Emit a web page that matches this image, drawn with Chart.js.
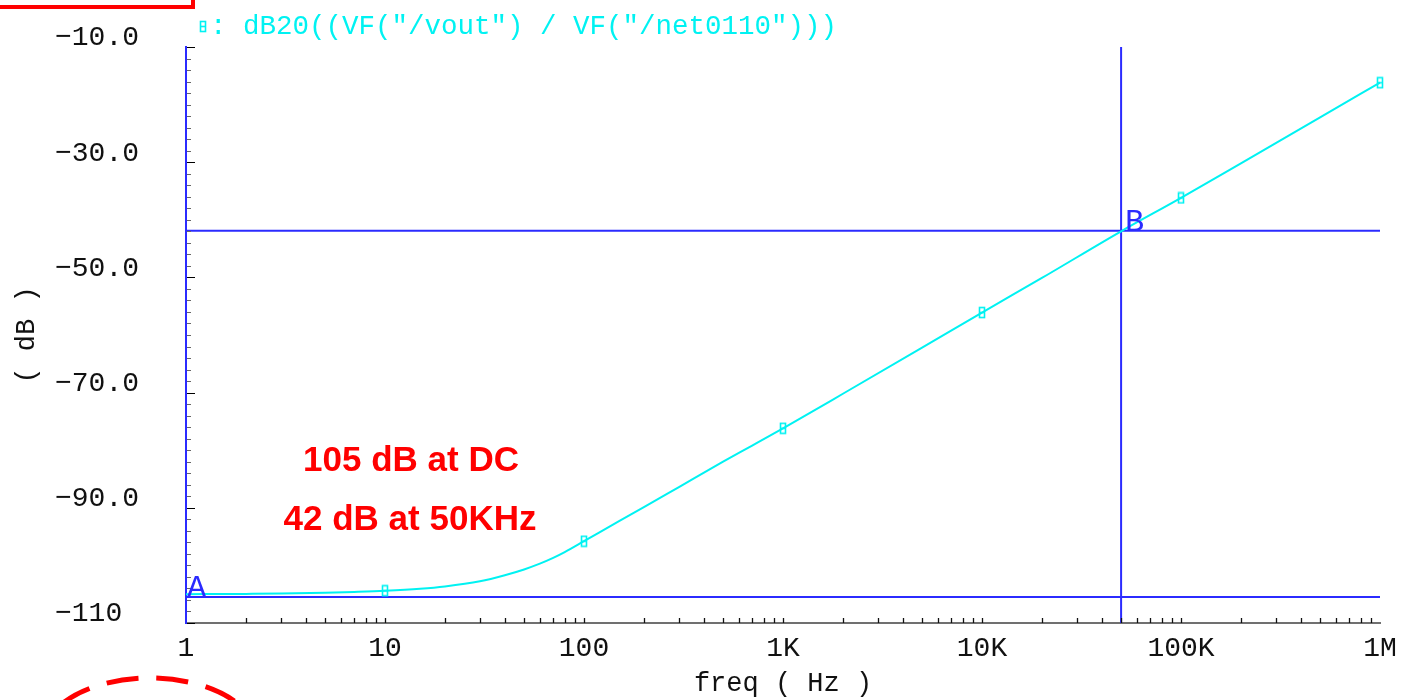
<!DOCTYPE html>
<html><head><meta charset="utf-8">
<script src="https://cdn.jsdelivr.net/npm/chart.js@4/dist/chart.umd.min.js"></script>
<style>html,body{margin:0;padding:0;background:#fff;} canvas{display:block;}</style>
</head><body>
<canvas id="c" width="1417" height="700"></canvas>
<script>
// ---- data ----
const freqHz = [1, 2, 3, 5, 7, 10, 15, 20, 30, 40, 50, 60, 70, 80, 100, 150, 200, 300, 500, 700,
  1000, 2000, 5000, 10000, 20000, 50000, 100000, 200000, 500000, 1000000];
const gainDb = [-105.0, -104.95, -104.9, -104.75, -104.6, -104.4, -104.05, -103.65, -102.75, -101.7,
  -100.7, -99.7, -98.7, -97.7, -95.8, -92.3, -89.9, -86.4, -82.0, -79.2,
  -76.2, -70.2, -62.2, -56.1, -50.1, -42.0, -36.2, -30.2, -22.2, -16.2];
const markerFreqs = [10, 100, 1000, 10000, 100000, 1000000];
const cursorNames = ['A', 'B'];
const cursorFreqs = [1, 50000];
const cursorDb = [-105.5, -41.9];
const xTickValues = [1, 10, 100, 1000, 10000, 100000, 1000000];
const xTickLabels = ['1', '10', '100', '1K', '10K', '100K', '1M'];
const yTickValues = [-110, -90, -70, -50, -30, -10];
const yTickLabels = ['−110', '−90.0', '−70.0', '−50.0', '−30.0', '−10.0'];
const traceLabel = ': dB20((VF("/vout") / VF("/net0110")))';
const xTitle = 'freq ( Hz )';
const yTitle = '( dB )';
const noteLines = ['105 dB at DC', '42 dB at 50KHz'];

const X_MIN = 1, X_MAX = 1e6, Y_MIN = -110, Y_MAX = -10;
const CYAN = '#00f2f2', BLUE = '#2b2bff', MONO = '"Liberation Mono", "DejaVu Sans Mono", monospace';

function makeMarker() {
  const c = document.createElement('canvas');
  c.width = 8; c.height = 13;
  const g = c.getContext('2d');
  g.strokeStyle = CYAN; g.lineWidth = 1.6;
  g.strokeRect(1.5, 1.5, 5, 10);
  g.beginPath(); g.moveTo(1.5, 6.5); g.lineTo(6.5, 6.5); g.stroke();
  return c;
}
const marker = makeMarker();

const curve = freqHz.map((f, i) => ({x: f, y: gainDb[i]}));
const cursorSets = [];
cursorNames.forEach((n, i) => {
  cursorSets.push({data: [{x: X_MIN, y: cursorDb[i]}, {x: X_MAX, y: cursorDb[i]}]});
  if (cursorFreqs[i] > X_MIN) cursorSets.push({data: [{x: cursorFreqs[i], y: Y_MIN}, {x: cursorFreqs[i], y: Y_MAX}]});
});

const decoPlugin = {
  id: 'deco',
  afterDraw(chart) {
    const ctx = chart.ctx, xs = chart.scales.x, ys = chart.scales.y, a = chart.chartArea;
    ctx.save();
    // y ticks (inward)
    for (let v = Y_MIN; v <= Y_MAX; v += 2) {
      const y = Math.round(ys.getPixelForValue(v)) + 0.5;
      const major = yTickValues.includes(v);
      ctx.strokeStyle = major ? '#000' : '#666';
      ctx.lineWidth = 1;
      ctx.beginPath(); ctx.moveTo(a.left + 1, y); ctx.lineTo(a.left + (major ? 9 : 5), y); ctx.stroke();
    }
    // x ticks (inward)
    ctx.strokeStyle = '#111'; ctx.lineWidth = 1.3;
    for (let d = 1; d < X_MAX; d *= 10) {
      for (let m = 1; m <= 9; m++) {
        const f = d * m; if (f <= X_MIN) continue;
        const x = Math.round(xs.getPixelForValue(f)) + 0.5;
        ctx.beginPath(); ctx.moveTo(x, a.bottom); ctx.lineTo(x, a.bottom - 5); ctx.stroke();
      }
    }
    // cursor letters
    ctx.fillStyle = BLUE; ctx.font = '32px ' + MONO; ctx.textAlign = 'left'; ctx.textBaseline = 'alphabetic';
    cursorNames.forEach((n, i) => {
      const x = xs.getPixelForValue(cursorFreqs[i]) + (i === 0 ? 1 : 4);
      const y = ys.getPixelForValue(cursorDb[i]);
      ctx.fillText(n, x, y);
    });
    // trace label
    ctx.drawImage(marker, 199, 20);
    ctx.fillStyle = CYAN; ctx.font = '27.5px ' + MONO; ctx.textBaseline = 'middle';
    ctx.fillText(traceLabel, 210, 27);
    // red notes
    ctx.fillStyle = '#ff0000'; ctx.font = 'bold 35px "Liberation Sans", Arial, sans-serif'; ctx.textAlign = 'center';
    ctx.fillText(noteLines[0], 411, 461);
    ctx.fillText(noteLines[1], 410, 520);
    // red box (top-left)
    ctx.strokeStyle = '#ff0000'; ctx.lineWidth = 4;
    ctx.strokeRect(-10, -10, 203, 17);
    // red dashed ellipse (bottom-left)
    ctx.lineWidth = 5; ctx.setLineDash([32, 18]); ctx.lineDashOffset = 10;
    ctx.beginPath(); ctx.ellipse(150, 738, 107, 60, 0, Math.PI, 3 * Math.PI); ctx.stroke();
    ctx.restore();
  }
};

new Chart(document.getElementById('c'), {
  type: 'line',
  data: {
    datasets: [
      {label: traceLabel, data: curve, borderColor: CYAN, borderWidth: 2, cubicInterpolationMode: 'monotone', clip: 8,
        pointStyle: marker,
        pointRadius: c => (markerFreqs.includes(c.raw && c.raw.x) ? 3 : 0),
        pointHoverRadius: 0},
      ...cursorSets.map(s => ({data: s.data, borderColor: BLUE, borderWidth: 2, pointRadius: 0, tension: 0}))
    ]
  },
  options: {
    responsive: false, animation: false, devicePixelRatio: 1,
    layout: {padding: {top: 47, right: 37, bottom: 0, left: 0}},
    plugins: {legend: {display: false}, tooltip: {enabled: false}},
    scales: {
      x: {
        type: 'logarithmic', min: X_MIN, max: X_MAX,
        afterBuildTicks: s => { s.ticks = xTickValues.map(v => ({value: v})); },
        afterFit: s => { s.height = 77; s.paddingLeft = 0; s.paddingRight = 0; },
        grid: {display: false, drawTicks: false},
        border: {display: true, color: '#707070', width: 2},
        ticks: {autoSkip: false, maxRotation: 0, padding: 9, color: '#111',
          font: {family: MONO, size: 28}, callback: (v, i) => xTickLabels[i]},
        title: {display: true, text: xTitle, color: '#111', font: {family: MONO, size: 27}, padding: {top: 2, bottom: 0}}
      },
      y: {
        type: 'linear', min: Y_MIN, max: Y_MAX,
        afterBuildTicks: s => { s.ticks = yTickValues.map(v => ({value: v})); },
        afterFit: s => { s.width = 186; s.paddingTop = 0; s.paddingBottom = 0; },
        grid: {display: false, drawTicks: false},
        border: {display: true, color: BLUE, width: 2},
        ticks: {padding: 47, labelOffset: -9, color: '#111', font: {family: MONO, size: 28},
          callback: (v, i) => yTickLabels[i].padEnd(5, ' ')},
        title: {display: true, text: yTitle, color: '#111', font: {family: MONO, size: 27}, padding: {top: 11, bottom: 0}}
      }
    }
  },
  plugins: [decoPlugin]
});
</script>
</body></html>
